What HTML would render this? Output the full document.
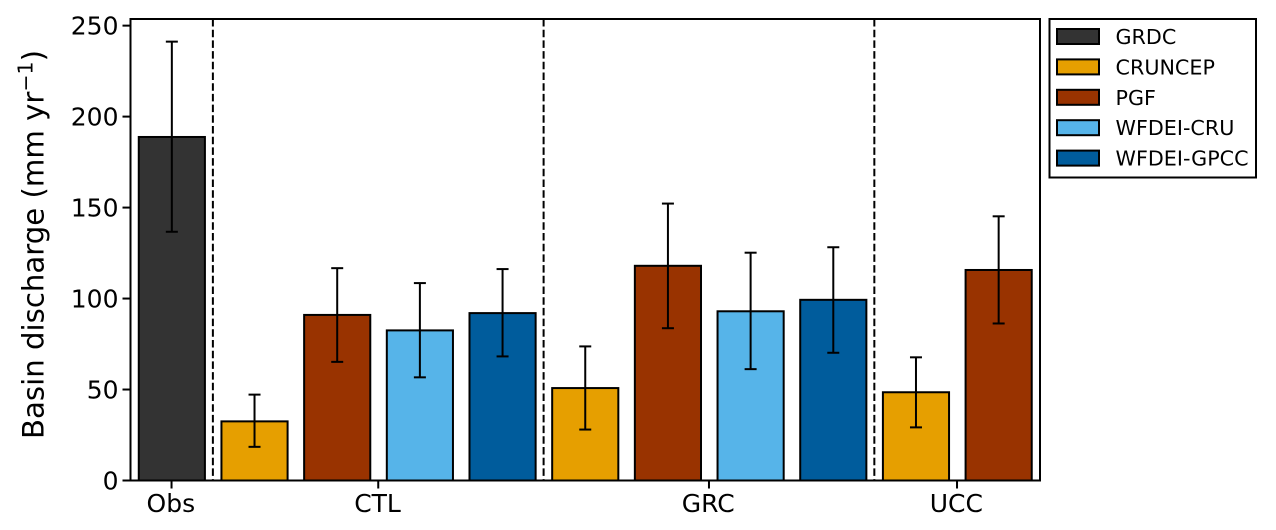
<!DOCTYPE html>
<html>
<head>
<meta charset="utf-8">
<title>Basin discharge</title>
<style>
html,body{margin:0;padding:0;background:#fff;width:1276px;height:530px;overflow:hidden}
svg{display:block}
text{font-family:"DejaVu Sans","Liberation Sans",sans-serif;fill:#000}
</style>
</head>
<body>
<svg id="chart" width="1276" height="530" viewBox="0 0 1276 530" xmlns="http://www.w3.org/2000/svg">
  <text transform="translate(43.5 244.5) rotate(-90)" text-anchor="middle" font-size="29.2">Basin discharge (mm yr<tspan dy="-11" font-size="20.5">−1</tspan><tspan dy="11">)</tspan></text>
</svg>
<script>
const datasets = ["GRDC", "CRUNCEP", "PGF", "WFDEI-CRU", "WFDEI-GPCC"];
const fills = ["#333333", "#E69F00", "#993300", "#56B4E9", "#005C9C"];
const barSeries = [0, 1, 2, 3, 4, 1, 2, 3, 4, 1, 2];
const barValues = [188.8, 32.5, 91, 82.5, 92, 50.8, 118, 93, 99.3, 48.5, 115.7];
const errLow = [136.7, 18.5, 65.2, 56.7, 68.2, 28, 83.7, 61.2, 70.2, 29.2, 86.3];
const errHigh = [241.2, 47.2, 116.7, 108.5, 116.2, 73.7, 152.2, 125.2, 128.2, 67.7, 145.2];
const yTicks = [0, 50, 100, 150, 200, 250];
const xTickPositions = [0, 2.5, 6.5, 9.5];
const xTickLabels = ["Obs", "CTL", "GRC", "UCC"];
const separators = [0.5, 4.5, 8.5];

const svg = document.getElementById('chart');
const NS = 'http://www.w3.org/2000/svg';
const L = 130.5, R = 1040, T = 19, B = 480.5;
const xMin = -0.5, xMax = 10.5, yPerPx = 1.8195;
const sx = v => L + (v - xMin) * (R - L) / (xMax - xMin);
const sy = v => B - v * yPerPx;
const barW = sx(0.8) - sx(0);

function mk(tag, attrs, parent) {
  const el = document.createElementNS(NS, tag);
  for (const k in attrs) el.setAttribute(k, attrs[k]);
  (parent || svg).appendChild(el);
  return el;
}

// bars
barValues.forEach((v, i) => {
  const bar = mk('rect', {x: sx(i) - barW / 2, y: sy(v), width: barW, height: sy(0) - sy(v), fill: fills[barSeries[i]], stroke: '#000', 'stroke-width': 2});
  
  
});

// error bars
barValues.forEach((v, i) => {
  const g = mk('g', {stroke: '#000', 'stroke-width': 2});
  
  
  mk('line', {x1: sx(i), x2: sx(i), y1: sy(errLow[i]), y2: sy(errHigh[i])}, g);
  mk('line', {x1: sx(i) - 6, x2: sx(i) + 6, y1: sy(errLow[i]), y2: sy(errLow[i])}, g);
  mk('line', {x1: sx(i) - 6, x2: sx(i) + 6, y1: sy(errHigh[i]), y2: sy(errHigh[i])}, g);
});

// group separators
separators.forEach(s => {
  const line = mk('line', {x1: sx(s) - 0.3, x2: sx(s) - 0.3, y1: T, y2: B, stroke: '#000', 'stroke-width': 2, 'stroke-dasharray': '7.5 3.2'});
  
  
});

// axes frame
const frame = mk('rect', {x: L, y: T, width: R - L, height: B - T, fill: 'none', stroke: '#000', 'stroke-width': 2});



// y ticks
yTicks.forEach(t => {
  const tick = mk('line', {x1: L - 8, x2: L, y1: sy(t), y2: sy(t), stroke: '#000', 'stroke-width': 2});
  
  
  const label = mk('text', {x: L - 12, y: sy(t) + 9, 'text-anchor': 'end', 'font-size': 25});
  
  
  label.textContent = t;
});

// x ticks
xTickPositions.forEach((p, i) => {
  const tick = mk('line', {x1: sx(p) - 0.3, x2: sx(p) - 0.3, y1: B, y2: B + 8, stroke: '#000', 'stroke-width': 2});
  
  
  const label = mk('text', {x: sx(p) - 1, y: 512, 'text-anchor': 'middle', 'font-size': 25});
  
  
  label.textContent = xTickLabels[i];
});

// legend
const legend = mk('g', {});


mk('rect', {x: 1049.5, y: 19, width: 206.5, height: 158.5, fill: '#fff', stroke: '#000', 'stroke-width': 2}, legend);
datasets.forEach((name, i) => {
  const cy = 36.5 + i * 30.4;
  const swatch = mk('rect', {x: 1057, y: cy - 7.5, width: 42, height: 15, fill: fills[i], stroke: '#000', 'stroke-width': 2}, legend);
  
  
  const label = mk('text', {x: 1115.5, y: cy + 7.5, 'font-size': 20.7}, legend);
  
  
  label.textContent = name;
});
</script>
</body>
</html>
